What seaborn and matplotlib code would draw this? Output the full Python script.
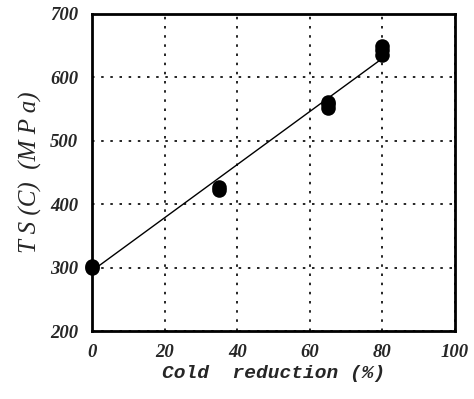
import matplotlib
matplotlib.use("Agg")
import matplotlib.pyplot as plt
import seaborn as sns
import numpy as np
import pandas as pd

reduction = [0, 0, 35, 35, 65, 65, 65, 80, 80, 80]
ts = [300, 302, 422, 428, 552, 558, 562, 635, 643, 650]
fit_x = [0, 80]
fit_y = [295, 630]
xticks = [0, 20, 40, 60, 80, 100]
yticks = [200, 300, 400, 500, 600, 700]

df = pd.DataFrame({"x": reduction, "y": ts})
fit = pd.DataFrame({"x": fit_x, "y": fit_y})

sns.set_theme(style="white")
fig = plt.figure(figsize=(4.74, 3.99), dpi=100)
ax = fig.add_axes([0.194, 0.170, 0.766, 0.795])

sns.lineplot(data=fit, x="x", y="y", ax=ax, color="black", linewidth=1.0)
sns.scatterplot(data=df, x="x", y="y", ax=ax, color="black", s=110, edgecolor="black", linewidth=0, zorder=5, clip_on=False)

ax.set_xlim(0, 100)
ax.set_ylim(200, 700)
ax.set_xticks(xticks)
ax.set_yticks(yticks)
ax.grid(True, color="black", linestyle=(0, (1.5, 4)), linewidth=1.2)
for s in ax.spines.values():
    s.set_linewidth(2.0)
    s.set_color("black")
ax.tick_params(axis="y", length=0, pad=10)
ax.tick_params(axis="x", length=0, pad=9)
tf = dict(family="Liberation Serif", style="italic", weight="bold", size=13.5)
ax.set_xticklabels([str(t) for t in xticks], fontdict=tf)
ax.set_yticklabels([str(t) for t in yticks], fontdict=tf)
ax.set_xlabel("Cold  reduction (%)", family="Liberation Mono", style="italic", weight="bold", size=14, labelpad=3)
ax.set_ylabel("T S (C)  (M P a)", family="Liberation Serif", style="italic", size=18, labelpad=6)

fig.savefig("out.png", dpi=100)
